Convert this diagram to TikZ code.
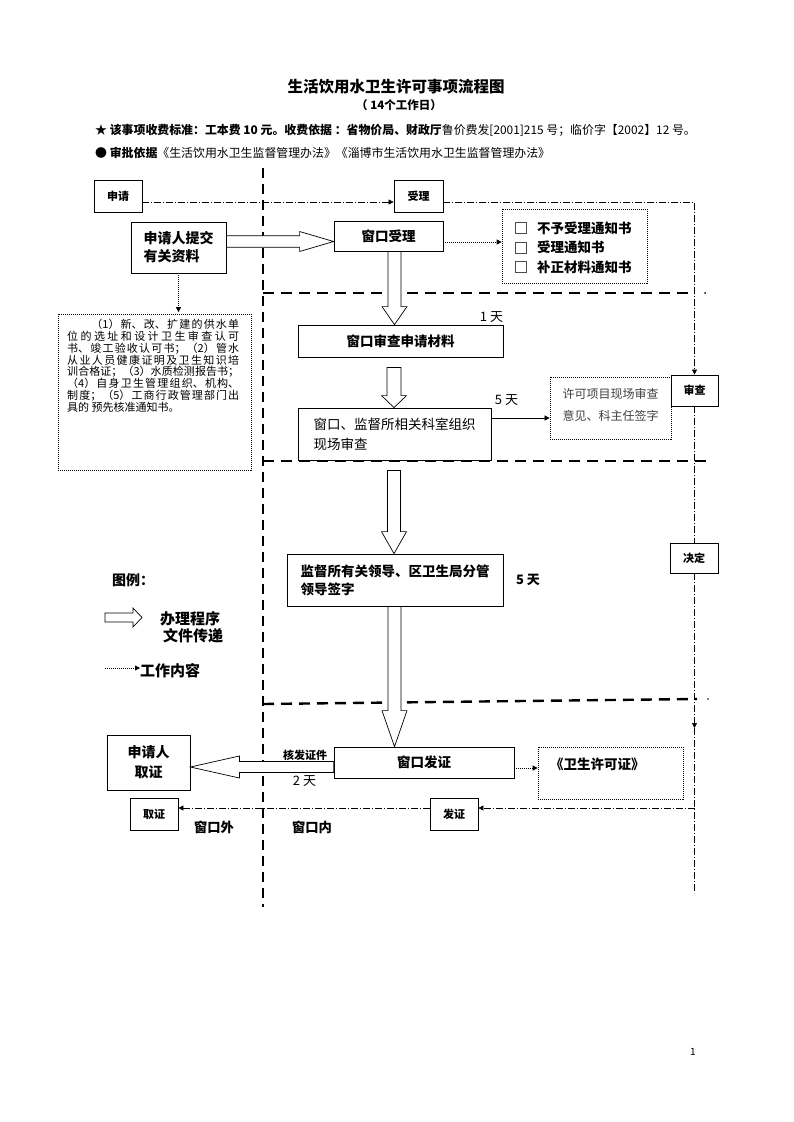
\documentclass[tikz,border=0pt]{standalone}
\usepackage{fontspec}
\setmainfont{Noto Sans CJK SC}
\usetikzlibrary{arrows.meta,calc}
\XeTeXlinebreaklocale "zh"
\XeTeXlinebreakskip=0pt plus 3pt
\newcommand\fsz[2]{\fontsize{#1}{#2}\selectfont}
% vertical block arrow: #1 x, #2 source, #3 target, #4 head height, #5 shaft half width, #6 head half width
\newcommand\blkdown[6]{%
 \draw[blk] let \p1=#2, \p2=#3 in
 ({#1pt-#5pt},\y1) -- ({#1pt-#5pt},{\y2+#4pt}) -- ({#1pt-#6pt},{\y2+#4pt}) -- ({#1pt},\y2)
 -- ({#1pt+#6pt},{\y2+#4pt}) -- ({#1pt+#5pt},{\y2+#4pt}) -- ({#1pt+#5pt},\y1) -- cycle;}
% horizontal block arrow to the right: #1 source, #2 target, #3 y (page), #4 shaft half, #5 head half, #6 head length
\newcommand\blkright[6]{%
 \draw[blk] let \p1=#1, \p2=#2 in
 (\x1,{-#3pt+#4pt}) -- ({\x2-#6pt},{-#3pt+#4pt}) -- ({\x2-#6pt},{-#3pt+#5pt}) -- (\x2,{-#3pt})
 -- ({\x2-#6pt},{-#3pt-#5pt}) -- ({\x2-#6pt},{-#3pt-#4pt}) -- (\x1,{-#3pt-#4pt}) -- cycle;}
\newcommand\blkleft[6]{%
 \draw[blk] let \p1=#1, \p2=#2 in
 (\x1,{-#3pt+#4pt}) -- ({\x2+#6pt},{-#3pt+#4pt}) -- ({\x2+#6pt},{-#3pt+#5pt}) -- (\x2,{-#3pt})
 -- ({\x2+#6pt},{-#3pt-#5pt}) -- ({\x2+#6pt},{-#3pt-#4pt}) -- (\x1,{-#3pt-#4pt}) -- cycle;}
\tikzset{
 box/.style={draw, line width=0.8pt, inner sep=0pt, align=center},
 dotbox/.style={draw, line width=0.7pt, dash pattern=on 1pt off 1pt, inner sep=0pt},
 thickdash/.style={line width=2.4pt, dash pattern=on 11pt off 7pt},
 vthickdash/.style={line width=2.4pt, dash pattern=on 10pt off 6pt},
 dashdot/.style={line width=0.6pt, dash pattern=on 7pt off 2pt on 1pt off 2pt},
 tip/.style={-{Triangle[length=5pt,width=5pt]}},
 dotarrow/.style={line width=0.8pt, dash pattern=on 1pt off 1pt, -{Triangle[length=5pt,width=5pt]}},
 thinarrow/.style={line width=0.6pt, -{Triangle[length=5pt,width=5pt]}},
 blk/.style={draw, line width=0.7pt, fill=white, line join=miter},
 lbl/.style={inner sep=0pt},
 small/.style={font=\fsz{11}{13}\bfseries},
 mid/.style={font=\fsz{13.5}{18}\bfseries},
}
\begin{document}
\begin{tikzpicture}[x=1pt,y=-1pt]
\useasboundingbox[fill=white] (0,0) rectangle (793,1122);

% header
\node[lbl, font=\fsz{15.5}{18}\bfseries] (title) at (396,87) {生活饮用水卫生许可事项流程图};
\node[lbl, font=\fsz{11.5}{14}\bfseries] (sub) at (399,105) {（ 14个工作日）};
\node[lbl, anchor=west, font=\fsz{11.9}{14}] (fee) at (95,130) {\textbf{★ 该事项收费标准：工本费 10 元。收费依据 ：省物价局、财政厅}鲁价费发[2001]215 号；临价字【2002】12 号。};
\node[lbl, anchor=west, font=\fsz{11.9}{14}] (basis) at (95,153) {\textbf{● 审批依据}《生活饮用水卫生监督管理办法》《淄博市生活饮用水卫生监督管理办法》};

% thick dashed separators
\draw[vthickdash] (263,168) -- (263,907);
\draw[thickdash] (263,293) -- (694,293);
\fill (705,293) circle (1pt);
\draw[thickdash] (263,461) -- (707,461);
\draw[thickdash] (263,704) -- (697,699);
\fill (708,699) circle (0.9pt);

% stage boxes
\node[box, small, minimum width=48pt, minimum height=32pt] (shenqing) at (118,196) {申请};
\node[box, small, minimum width=49pt, minimum height=32pt] (shouli) at (418.5,196) {受理};
\node[box, small, minimum width=47pt, minimum height=31pt] (shencha) at (694.5,390.5) {审查};
\node[box, small, minimum width=48pt, minimum height=30pt] (jueding) at (694,558) {决定};
\node[box, small, minimum width=48pt, minimum height=32pt] (quzheng) at (154,814) {取证};
\node[box, small, minimum width=48pt, minimum height=32pt] (fazheng) at (454,814) {发证};

% process boxes
\node[box, align=left, font=\fsz{14}{18}\bfseries, minimum width=95pt, minimum height=51pt] (tijiao) at (178.5,247.5) {申请人提交\\有关资料};
\node[box, mid, minimum width=109pt, minimum height=30pt] (wsl) at (388.5,236) {窗口受理};
\node[dotbox, minimum width=145pt, minimum height=74pt] (checklist) at (574.5,246) {};
\node[box, mid, minimum width=205pt, minimum height=32pt] (sc) at (400.5,341) {窗口审查申请材料};
\node[box, align=left, font=\fsz{13.5}{20}, minimum width=193pt, minimum height=52pt] (xc) at (394.5,434) {窗口、监督所相关科室组织\\现场审查};
\node[dotbox, align=left, text=black!75, font=\fsz{12}{22}, minimum width=121pt, minimum height=62pt, text depth=8pt] (xk) at (610.5,408) {许可项目现场审查\\意见、科主任签字};
\node[box, align=left, font=\fsz{13.5}{18}\bfseries, minimum width=216pt, minimum height=52pt] (jd) at (395,580) {监督所有关领导、区卫生局分管\\领导签字};
\node[box, mid, minimum width=180pt, minimum height=31pt] (fz) at (424,762.5) {窗口发证};
\node[box, font=\fsz{14}{20}\bfseries, minimum width=83pt, minimum height=55pt] (lq) at (148.5,762.5) {申请人\\取证};
\node[dotbox, minimum width=145pt, minimum height=52pt] (wsxkz) at (610.5,773) {};
\node[lbl, anchor=west, font=\fsz{13.5}{16}\bfseries] (wsxkztext) at (550,764) {《卫生许可证》};

% left note
\node[dotbox, minimum width=193pt, minimum height=156pt] (leftnote) at (154.5,392) {};
\node[lbl, anchor=north west, text width=172pt, align=justify, font=\fsz{11}{11.8}] (notetext) at (67,319) {\tolerance=10000\hbadness=10000\hspace*{2.2em}（1）新、改、扩建的供水单\linebreak
位的选址和设计卫生审查认可\linebreak
书、竣工验收认可书；（2）管水\linebreak
从业人员健康证明及卫生知识培\linebreak
训合格证；（3）水质检测报告书；\linebreak
（4）自身卫生管理组织、机构、\linebreak
制度；（5）工商行政管理部门出\linebreak
具的 预先核准通知书。};

% checklist
\foreach \yy/\tt [count=\i] in {228/不予受理通知书, 247.5/受理通知书, 267/补正材料通知书}{
  \draw[line width=0.5pt, black!70] (515,\yy-5.5) rectangle (526,\yy+5.5);
  \node[lbl, anchor=west, font=\fsz{13.5}{16}\bfseries] (ck\i) at (537,\yy) {\tt};
}

% labels
\node[lbl, font=\fsz{13}{15}] (d1) at (491.5,317) {1 天};
\node[lbl, font=\fsz{13}{15}] (d5a) at (506.5,400) {5 天};
\node[lbl, font=\fsz{13}{15}\bfseries] (d5b) at (528,580) {5 天};
\node[lbl, font=\fsz{11}{13}\bfseries] (hfzj) at (305,755) {核发证件};
\node[lbl, font=\fsz{13}{15}] (d2) at (304.5,781) {2 天};
\node[lbl, font=\fsz{13.3}{15}\bfseries] (wkw) at (214,827) {窗口外};
\node[lbl, font=\fsz{13.3}{15}\bfseries] (wkn) at (312,827) {窗口内};
\node[lbl, font=\fsz{10}{12}] (pg) at (693,1052) {1};

% dash-dot flow line
\draw[dashdot, tip] ([yshift=-6pt]shenqing.east) -- ([yshift=-6pt]shenqing.east -| shouli.west);
\coordinate (tr) at (694.5,202);
\draw[dashdot, tip] ([yshift=-6pt]shouli.east) -- (tr) -- (shencha.north);
\draw[dashdot] (shencha.south) -- (shencha.south |- jueding.north);
\coordinate (a1) at (694.5,728);
\coordinate (bot) at (694.5,893);
\coordinate (r808) at (694.5,808);
\draw[dashdot, tip] (jueding.south -| a1) -- (a1);
\draw[dashdot] (a1) -- (bot);
\draw[dashdot, tip] (r808) -- (r808 -| fazheng.east);
\draw[dashdot, tip] ([yshift=6pt]fazheng.west) -- ([yshift=6pt]quzheng.east);

% dotted arrows
\draw[dotarrow, shorten >=1.5pt] (tijiao.south) -- (tijiao.south |- leftnote.north);
\draw[dotarrow] ([yshift=-6pt]wsl.east) -- ([yshift=-6pt]wsl.east -| checklist.west);
\draw[dotarrow] ([yshift=-5.5pt]fz.east) -- ([yshift=-5.5pt]fz.east -| wsxkz.west);
\draw[thinarrow] ([yshift=16pt]xc.east) -- ([yshift=16pt]xc.east -| xk.west);

% block arrows
\blkright{(tijiao.east)}{(wsl.west)}{241.5}{5.8}{10}{34}
\blkdown{394.5}{(wsl.south)}{(sc.north)}{18}{6.5}{12.5}
\blkdown{394}{($(sc.south)+(0,10)$)}{(xc.north)}{12}{7}{12.5}
\blkdown{394}{($(xc.south)+(0,10)$)}{(jd.north)}{22}{6.5}{12.5}
\blkdown{394.5}{(jd.south)}{(fz.north)}{36}{6.5}{12.5}
\blkleft{(fz.west)}{(lq.east)}{767}{5.5}{11}{49}

% legend
\node[lbl, anchor=west, font=\fsz{14}{16}\bfseries] (legend) at (112,580) {图例：};
\draw[blk] (105,613) -- (133,613) -- (133,608) -- (142,617.5) -- (133,627) -- (133,622) -- (105,622) -- cycle;
\node[lbl, anchor=west, font=\fsz{15}{17}\bfseries] (lg1) at (160,619) {办理程序};
\node[lbl, anchor=west, font=\fsz{15}{17}\bfseries] (lg2) at (163,636) {文件传递};
\node[lbl, anchor=west, font=\fsz{15}{17}\bfseries] (lg3) at (140,671) {工作内容};
\coordinate (lgs) at (105,668);
\draw[dotarrow] (lgs) -- (lgs -| lg3.west);
\end{tikzpicture}
\end{document}
